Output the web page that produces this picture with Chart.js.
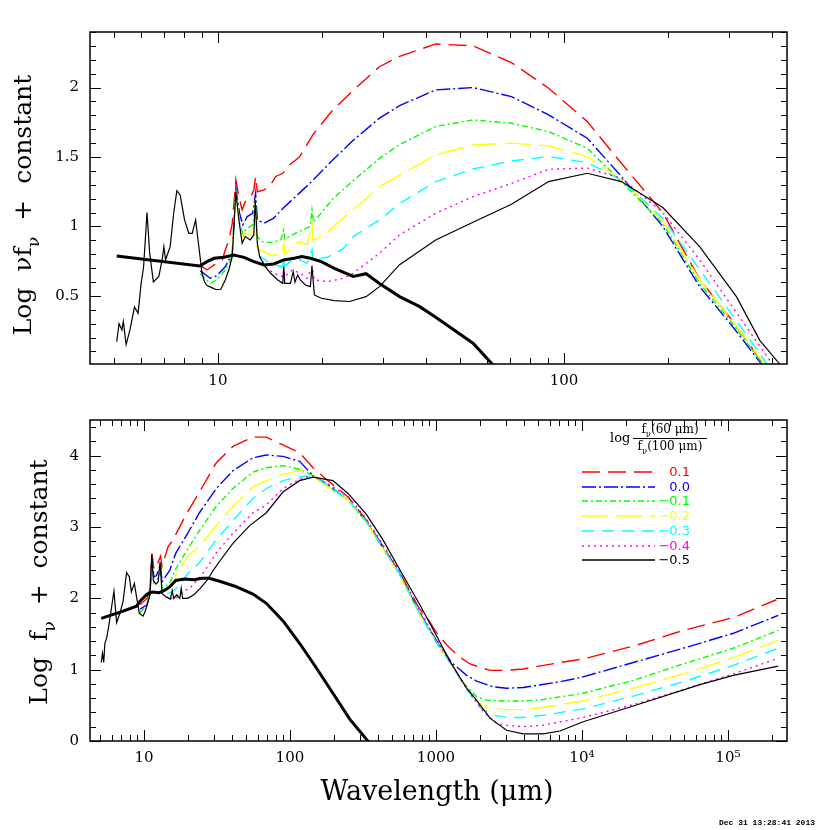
<!DOCTYPE html>
<html>
<head>
<meta charset="utf-8">
<script src="https://cdn.jsdelivr.net/npm/chart.js@4/dist/chart.umd.min.js"></script>
<style>
  body { margin: 0; background: #fff; }
  #wrap { position: relative; width: 830px; height: 830px; }
  canvas { position: absolute; left: 0; }
</style>
</head>
<body>
<div id="wrap">
  <canvas id="topChart" width="830" height="400" style="top:0"></canvas>
  <canvas id="botChart" width="830" height="430" style="top:400px"></canvas>
</div>
<script>
// legend: log f(60um)/f(100um)
const seriesLabels = ['0.1', '0.0', '\u22120.1', '\u22120.2', '\u22120.3', '\u22120.4', '\u22120.5'];
const seriesColors = ['#ff0000', '#0000ff', '#00ff00', '#ffff00', '#00ffff', '#ff00ff', '#000000'];
const seriesDash = [[18, 8], [14, 3, 2, 3], [6, 3, 2, 3], [26, 8], [12, 8], [2, 4], []];

// ---- top panel: log nu f_nu ----
const topLamP01 = [8.9,9.3,9.75,10.0,10.3,10.5,10.75,11.0,11.27,11.5,11.75,12.0,12.45,12.7,12.85,13.0,13.6,14.2,14.7,15.4,16.1,17.2,18.8,21.5,24.6,29.3,33.5,42.6,54.6,70.5,90.3,116.8,146.5,193,246.6,307,377,420];
const topP01 = [0.72,0.687,0.723,0.74,0.76,0.83,0.90,1.02,1.335,1.215,1.12,1.18,1.215,1.263,1.359,1.25,1.263,1.30,1.36,1.383,1.443,1.50,1.66,1.84,1.98,2.15,2.225,2.314,2.30,2.18,1.995,1.755,1.455,1.10,0.62,0.32,0.01,-0.25];

const topLamP00 = [8.9,9.5,9.9,10.5,11.0,11.27,11.55,11.8,12.15,12.6,12.85,13.0,13.6,14.5,15.4,17.2,18.6,21.5,24.6,29.3,33.5,42.6,54.6,70.5,90.3,116.8,146.5,193,246.6,307,372,420];
const topP00 = [0.68,0.627,0.644,0.71,0.807,1.275,1.095,1.011,1.071,1.095,1.24,1.047,1.023,1.06,1.13,1.24,1.32,1.48,1.62,1.78,1.87,1.983,2.0,1.935,1.803,1.635,1.36,1.0,0.567,0.28,0.01,-0.3];

const topLamM01 = [8.9,9.5,9.9,10.5,11.0,11.27,11.55,11.8,12.15,12.6,12.85,13.0,13.4,14.2,15.2,15.5,15.6,17.0,18.5,18.7,18.9,21.5,24.6,29.3,33.5,42.6,54.6,70.5,90.3,116.8,146.5,193,246.6,307,375,420];
const topM01 = [0.66,0.591,0.615,0.687,0.783,1.263,1.023,0.951,0.987,1.011,1.16,0.927,0.891,0.884,0.903,0.975,0.91,0.96,1.0,1.12,1.03,1.2,1.33,1.49,1.59,1.72,1.767,1.743,1.683,1.563,1.323,1.02,0.59,0.30,0.01,-0.27];

const topLamM02 = [11.0,11.27,11.5,11.75,12.0,12.4,12.7,12.82,12.95,13.2,14.2,15.3,15.5,15.6,16.8,17.3,18.1,18.7,18.8,19.4,20.8,23,26.8,29.3,33.5,42.6,54.6,70.5,90.3,116.8,146.5,193,246.6,307,379,420];
const topM02 = [0.783,1.255,1.05,0.92,0.95,0.94,0.97,1.19,0.855,0.831,0.795,0.795,0.879,0.80,0.879,0.891,0.867,1.023,0.903,0.915,0.963,1.06,1.2,1.287,1.37,1.515,1.587,1.60,1.58,1.503,1.335,1.04,0.62,0.32,0.01,-0.23];

const topLamM03 = [13.1,13.9,14.5,15.4,15.5,15.6,16.4,17.3,18.1,18.7,18.8,20.8,23,24.6,29.3,33.5,42.6,54.6,70.5,90.3,116.8,146.5,193,246.6,307,386,430];
const topM03 = [0.795,0.747,0.723,0.711,0.771,0.715,0.759,0.759,0.735,0.831,0.759,0.78,0.84,0.927,1.047,1.165,1.323,1.414,1.472,1.503,1.46,1.335,1.06,0.69,0.36,0.01,-0.2];

const topLamM04 = [13.2,13.7,14.5,15.4,15.5,15.6,16.4,17.3,18.1,18.7,19.0,20.8,23,24.6,29.3,33.5,42.6,54.6,70.5,90.3,116.8,146.5,193,246.6,307,400,440];
const topM04 = [0.783,0.711,0.663,0.639,0.69,0.64,0.687,0.663,0.627,0.711,0.615,0.603,0.627,0.663,0.807,0.94,1.095,1.215,1.31,1.412,1.42,1.347,1.10,0.76,0.42,0.01,-0.15];

const topLamM05 = [5.1,5.18,5.28,5.33,5.43,5.57,5.74,5.88,6.0,6.1,6.24,6.35,6.51,6.75,6.9,6.98,7.06,7.28,7.45,7.61,7.78,8.01,8.24,8.43,8.62,8.81,9.0,9.15,9.3,9.6,9.9,10.2,10.5,10.75,11.0,11.27,11.5,11.75,12.0,12.4,12.7,12.82,13.0,13.2,13.7,14.2,14.9,15.4,15.5,15.6,16.2,16.5,16.7,17.0,17.3,17.9,18.5,18.7,19.0,19.9,21.7,24.0,26.8,29.3,33.5,42.6,54.6,70.5,90.3,116.8,146.5,193,246.6,315,368,420,450];
const topM05 = [0.17,0.30,0.255,0.315,0.15,0.255,0.42,0.375,0.59,0.71,1.10,0.81,0.60,0.64,0.76,0.855,0.76,0.855,1.095,1.258,1.227,1.047,0.951,0.951,1.047,0.855,0.66,0.60,0.575,0.56,0.545,0.548,0.615,0.687,0.783,1.25,1.047,0.879,0.927,0.903,0.939,1.19,0.879,0.783,0.711,0.663,0.615,0.591,0.711,0.591,0.591,0.675,0.60,0.651,0.615,0.579,0.567,0.711,0.507,0.483,0.466,0.46,0.495,0.567,0.725,0.903,1.03,1.16,1.323,1.383,1.323,1.136,0.855,0.495,0.18,0.01,-0.12];

const topLamThick = [5.1,8.86,9.3,9.75,10.4,11.1,11.9,12.7,13.6,14.5,15.5,16.6,17.5,18.5,19.9,21.7,24.6,26.8,29.3,33.5,38.3,42.6,54.6,62,70];
const topThick = [0.788,0.716,0.747,0.771,0.778,0.795,0.778,0.747,0.723,0.73,0.759,0.771,0.783,0.771,0.747,0.699,0.64,0.66,0.59,0.495,0.423,0.347,0.16,0.01,-0.15];

// ---- bottom panel: log f_nu ----
const botLamP01 = [9.4,10.5,11.0,11.35,11.7,12.2,13.0,13.3,14.6,15.8,19.5,24.0,31.3,40.7,55.8,68.9,89.5,116.4,144,177,250,333,564,773,900,1000,1183,1422,1711,2344,3047,3963,7080,10200,22480,49400,108900,215000];
const botP01 = [1.91,2.0,2.14,2.63,2.41,2.45,2.59,2.45,2.72,2.82,3.18,3.49,3.90,4.13,4.26,4.26,4.15,4.04,3.83,3.67,3.42,3.10,2.36,1.85,1.68,1.53,1.35,1.19,1.08,0.99,0.99,1.01,1.10,1.15,1.33,1.55,1.73,1.98];

const botLamP00 = [9.4,10.5,11.0,11.35,11.7,12.2,13.0,13.3,15.0,16.5,19.5,24.0,31.3,40.7,55.8,68.9,89.5,116.4,144,177,250,333,564,773,1000,1280,1623,1900,2460,3047,3963,7080,10200,22480,49400,108900,221000];
const botP00 = [1.85,1.91,2.09,2.55,2.30,2.32,2.48,2.23,2.39,2.63,2.88,3.20,3.54,3.79,3.97,4.01,3.99,3.92,3.72,3.61,3.38,3.08,2.35,1.80,1.42,1.10,0.92,0.84,0.76,0.74,0.75,0.83,0.90,1.10,1.30,1.51,1.76];

const botLamM01 = [9.4,10.5,11.0,11.35,11.7,12.2,13.0,13.3,15.0,16.5,19.5,24.0,31.3,40.7,55.8,68.9,89.5,116.4,144,177,250,333,564,773,1000,1250,1515,1900,2240,3047,3963,5400,10200,22480,49400,108900,221000];
const botM01 = [1.80,1.90,2.07,2.50,2.21,2.25,2.36,2.14,2.21,2.41,2.66,2.95,3.29,3.54,3.77,3.83,3.86,3.81,3.72,3.58,3.38,3.07,2.33,1.78,1.40,1.10,0.83,0.62,0.57,0.56,0.56,0.58,0.67,0.85,1.08,1.30,1.55];

const botLamM02 = [13.3,14.2,15.6,16.8,19.9,24.0,31.3,40.7,55.8,68.9,89.5,116.4,144,177,250,333,564,773,1000,1250,1500,1804,2240,3047,3963,5400,10200,22480,49400,108900,221000];
const botM02 = [2.07,2.14,2.18,2.34,2.59,2.73,3.02,3.29,3.56,3.65,3.74,3.79,3.72,3.58,3.38,3.07,2.33,1.78,1.39,1.10,0.85,0.60,0.46,0.44,0.44,0.47,0.56,0.74,0.94,1.17,1.41];

const botLamM03 = [14.5,15.6,17.2,19.9,24.0,31.3,40.7,55.8,68.9,89.5,116.4,144,177,250,333,564,773,1000,1250,1600,2000,2500,3047,3963,5400,10200,22480,49400,108900,221000];
const botM03 = [2.07,2.09,2.16,2.34,2.50,2.82,3.09,3.40,3.54,3.65,3.70,3.72,3.60,3.39,3.08,2.34,1.79,1.39,1.10,0.75,0.47,0.36,0.33,0.33,0.36,0.45,0.63,0.83,1.06,1.30];

const botLamM04 = [15.2,16.5,18,21,24.3,28,31.3,40.7,55.8,68.9,89.5,116.4,144,177,250,333,564,773,1000,1250,1600,2100,2600,3000,3963,5400,10200,22480,49400,108900,221000];
const botM04 = [2.0,2.0,2.07,2.16,2.30,2.48,2.64,2.91,3.20,3.31,3.54,3.67,3.72,3.62,3.43,3.12,2.38,1.84,1.42,1.11,0.75,0.42,0.25,0.22,0.20,0.22,0.33,0.51,0.72,0.94,1.16];

const botLamM05 = [5.1,5.2,5.3,5.4,5.56,5.75,6.23,6.5,6.84,7.2,7.6,7.95,8.2,8.6,8.93,9.3,9.85,10.2,10.6,11.0,11.3,11.6,12.1,12.5,12.9,13.3,14.2,15.2,15.6,16.0,16.8,17.6,18.0,18.4,19.9,22.0,24.3,27.0,30,33,40.7,53,68.9,89.5,116.4,144,197,250,333,434,566,776,1000,1247,1623,1850,2344,3047,3963,5430,7080,10200,22480,64300,108900,221000];
const botM05 = [1.10,1.23,1.10,1.37,1.45,1.62,2.10,1.66,1.79,1.96,2.36,2.30,2.09,2.21,2.0,1.79,1.75,1.82,1.93,2.05,2.61,2.25,2.20,2.23,2.51,2.07,2.02,1.99,2.11,2.0,2.05,2.0,2.14,2.0,2.0,2.05,2.14,2.25,2.40,2.52,2.77,3.02,3.20,3.49,3.65,3.70,3.65,3.47,3.18,2.82,2.40,1.91,1.49,1.12,0.74,0.60,0.32,0.15,0.10,0.10,0.14,0.27,0.49,0.79,0.92,1.05];

const botLamThick = [5.1,7.2,8.9,9.4,10.5,11.5,12.7,13.8,15,16.5,19,22,25,28,33,42,55.8,68.9,90,116.4,151,197,256,342,400];
const botThick = [1.72,1.82,1.89,1.96,2.06,2.09,2.08,2.11,2.16,2.25,2.27,2.26,2.28,2.28,2.24,2.17,2.06,1.93,1.68,1.37,1.03,0.67,0.31,0.0,-0.25];

// axis ticks
const topXTicks = [10, 100];
const botXTicks = [10, 100, 1000, 10000, 100000];
const xTickText = {10: '10', 100: '100', 1000: '1000', 10000: '10\u2074', 100000: '10\u2075'};
const topYTicks = [0.5, 1, 1.5, 2];
const botYTicks = [0, 1, 2, 3, 4];

const serif = "'DejaVu Serif', serif";

function pts(lam, val) {
  return lam.map((l, i) => ({x: l, y: val[i]}));
}

function makeSets(groups, thick) {
  // black thick first so it's on top, then -0.5 ... 0.1
  const sets = [{data: thick, borderColor: '#000', borderWidth: 3, borderDash: []}];
  for (let i = 6; i >= 0; i--) {
    sets.push({data: groups[i], borderColor: seriesColors[i], borderWidth: i === 6 ? 1.2 : 1.4, borderDash: seriesDash[i]});
  }
  return sets.map(s => Object.assign(s, {pointRadius: 0, tension: 0, fill: false, clip: 0}));
}

function drawRich(ctx, parts, x, y, size, align, family) {
  const fam = family || serif;
  const widths = parts.map(p => {
    ctx.font = (p[1] ? size * 0.7 : size) + 'px ' + fam;
    return ctx.measureText(p[0]).width;
  });
  const total = widths.reduce((a, b) => a + b, 0);
  let cx = align === 'center' ? x - total / 2 : x;
  ctx.textAlign = 'left';
  parts.forEach((p, i) => {
    ctx.font = (p[1] ? size * 0.7 : size) + 'px ' + fam;
    ctx.fillText(p[0], cx, y + (p[1] ? size * 0.3 : 0));
    cx += widths[i];
  });
}

const frameTicks = {
  id: 'frameTicks',
  afterDatasetsDraw(chart, args, o) {
    const {ctx, chartArea: a} = chart;
    const xs = chart.scales.x, ys = chart.scales.y;
    ctx.save();
    ctx.strokeStyle = '#000';
    ctx.lineWidth = 1;
    ctx.setLineDash([]);
    ctx.beginPath();
    for (let d = 0; d <= 5; d++) {
      for (let m = 1; m < 10; m++) {
        const v = m * Math.pow(10, d);
        if (v < xs.min || v > xs.max) continue;
        const px = Math.round(xs.getPixelForValue(v)) + 0.5;
        const len = m === 1 ? 11 : 6;
        ctx.moveTo(px, a.bottom); ctx.lineTo(px, a.bottom - len);
        ctx.moveTo(px, a.top); ctx.lineTo(px, a.top + len);
      }
    }
    const k0 = Math.ceil(ys.min / o.yMinor - 1e-6);
    for (let k = k0; k * o.yMinor <= ys.max + 1e-9; k++) {
      const v = k * o.yMinor;
      const py = Math.round(ys.getPixelForValue(v)) + 0.5;
      const r = v / o.yMajor;
      const len = Math.abs(r - Math.round(r)) < 1e-6 ? 11 : 6;
      ctx.moveTo(a.left, py); ctx.lineTo(a.left + len, py);
      ctx.moveTo(a.right, py); ctx.lineTo(a.right - len, py);
    }
    ctx.stroke();
    ctx.lineWidth = 1.5;
    ctx.strokeRect(a.left, a.top, a.right - a.left, a.bottom - a.top);
    ctx.restore();
  }
};

const yTitle = {
  id: 'yTitle',
  afterDraw(chart, args, o) {
    const ctx = chart.ctx;
    ctx.save();
    ctx.fillStyle = '#000';
    ctx.textBaseline = 'alphabetic';
    ctx.translate(o.x, o.y);
    ctx.rotate(-Math.PI / 2);
    drawRich(ctx, o.parts, 0, 0, 25, 'center');
    ctx.restore();
  }
};

const legendBox = {
  id: 'legendBox',
  afterDraw(chart) {
    const ctx = chart.ctx;
    ctx.save();
    ctx.fillStyle = '#000';
    ctx.textBaseline = 'alphabetic';
    ctx.textAlign = 'left';
    ctx.font = '13px ' + serif;
    ctx.fillText('log', 610, 42);
    drawRich(ctx, [['f', 0], ['\u03bd', 1], ['(60 \u03bcm)', 0]], 670, 33, 12, 'center');
    drawRich(ctx, [['f', 0], ['\u03bd', 1], ['(100 \u03bcm)', 0]], 670, 50, 12, 'center');
    ctx.strokeStyle = '#000';
    ctx.lineWidth = 1;
    ctx.beginPath();
    ctx.moveTo(633, 38.5); ctx.lineTo(707, 38.5);
    ctx.stroke();
    seriesLabels.forEach((lab, i) => {
      const y = Math.round(72 + i * 14.7);
      ctx.strokeStyle = seriesColors[i];
      ctx.lineWidth = 1.4;
      ctx.setLineDash(seriesDash[i]);
      ctx.beginPath();
      ctx.moveTo(582, y); ctx.lineTo(655, y);
      ctx.stroke();
      ctx.setLineDash([]);
      ctx.fillStyle = seriesColors[i];
      ctx.font = '13px "DejaVu Sans", sans-serif';
      ctx.textAlign = 'right';
      ctx.textBaseline = 'middle';
      ctx.fillText(lab, 690, y + 1);
    });
    // x title and stamp
    ctx.fillStyle = '#000';
    ctx.textBaseline = 'alphabetic';
    ctx.textAlign = 'center';
    ctx.font = '27px ' + serif;
    ctx.fillText('Wavelength (\u03bcm)', 437, 400);
    ctx.textAlign = 'right';
    ctx.font = 'bold 8px "Liberation Mono", monospace';
    ctx.fillText('Dec 31 13:28:41 2013', 815, 425);
    ctx.restore();
  }
};

function makeChart(id, sets, xr, yr, xt, yt, pad, xh, yMinor, yMajor, titleOpts, extra) {
  return new Chart(document.getElementById(id), {
    type: 'line',
    data: {datasets: sets},
    options: {
      responsive: false,
      animation: false,
      devicePixelRatio: 1,
      layout: {padding: pad},
      plugins: {
        legend: {display: false},
        tooltip: {enabled: false},
        frameTicks: {yMinor: yMinor, yMajor: yMajor},
        yTitle: titleOpts
      },
      scales: {
        x: {
          type: 'logarithmic', min: xr[0], max: xr[1], bounds: 'data',
          grid: {display: false, drawTicks: false}, border: {display: false},
          afterBuildTicks: s => { s.ticks = xt.map(v => ({value: v})); },
          afterFit: s => { s.height = xh; },
          ticks: {
            autoSkip: false, maxRotation: 0, padding: 8, color: '#000',
            font: {family: "'DejaVu Serif', serif", size: 15},
            callback: v => xTickText[v] || ''
          }
        },
        y: {
          type: 'linear', min: yr[0], max: yr[1],
          grid: {display: false, drawTicks: false}, border: {display: false},
          afterBuildTicks: s => { s.ticks = yt.map(v => ({value: v})); },
          afterFit: s => { s.width = 90; },
          ticks: {
            padding: 11, color: '#000',
            font: {family: "'DejaVu Serif', serif", size: 15},
            callback: v => String(v)
          }
        }
      }
    },
    plugins: [frameTicks, yTitle].concat(extra)
  });
}

const topGroups = [pts(topLamP01, topP01), pts(topLamP00, topP00), pts(topLamM01, topM01), pts(topLamM02, topM02), pts(topLamM03, topM03), pts(topLamM04, topM04), pts(topLamM05, topM05)];
const botGroups = [pts(botLamP01, botP01), pts(botLamP00, botP00), pts(botLamM01, botM01), pts(botLamM02, botM02), pts(botLamM03, botM03), pts(botLamM04, botM04), pts(botLamM05, botM05)];

makeChart('topChart', makeSets(topGroups, pts(topLamThick, topThick)),
  [4.27, 441], [0.01, 2.4], topXTicks, topYTicks,
  {left: 0, right: 43, top: 32, bottom: 0}, 36, 0.1, 0.5,
  {x: 31, y: 205, parts: [['Log  \u03bdf', 0], ['\u03bd', 1], ['  +  constant', 0]]}, []);

makeChart('botChart', makeSets(botGroups, pts(botLamThick, botThick)),
  [4.27, 2.54e5], [0, 4.5], botXTicks, botYTicks,
  {left: 0, right: 43, top: 9, bottom: 0}, 89, 0.2, 1,
  {x: 47, y: 182, parts: [['Log  f', 0], ['\u03bd', 1], ['  +  constant', 0]]}, [legendBox]);
</script>
</body>
</html>
